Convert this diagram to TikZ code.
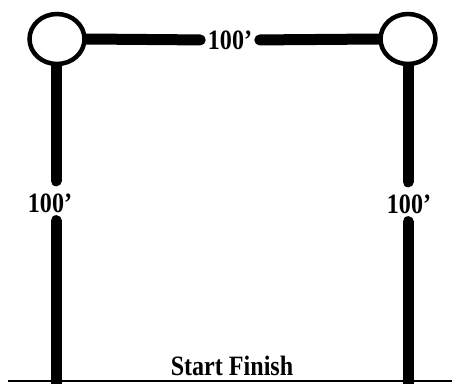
\documentclass[tikz,border=0pt]{standalone}
\usepackage{fontspec}
\usepackage{graphicx}
\setmainfont{Liberation Serif}
\usetikzlibrary{backgrounds,shapes.geometric}
\newcommand{\cond}[1]{\scalebox{0.86}[1]{#1}}
\begin{document}
\begin{tikzpicture}[x=1pt,y=-1pt,
  post/.style={draw=black,line width=4.5pt,fill=white,ellipse,minimum width=55pt,minimum height=50pt,inner sep=0pt},
  lbl/.style={font=\bfseries\fontsize{28}{28}\selectfont,inner sep=0pt,text=black},
  bar/.style={line width=11pt,line cap=round,draw=black}]
\useasboundingbox (0,0) rectangle (452,383);
\node[post] (lc) at (57,39) {};
\node[post] (rc) at (408,39) {};
\node[lbl] (top) at (230,40) {\cond{100’}};
\node[lbl] (left) at (50,203) {\cond{100’}};
\node[lbl] (right) at (409,204) {\cond{100’}};
\node[lbl] (sf) at (232,366) {\cond{Start Finish}};
\coordinate (lb) at (56,392);
\coordinate (rb) at (408,392);
\coordinate (bl) at (8,381);
\coordinate (br) at (452,381);
\begin{scope}[on background layer]
\draw[bar,shorten >=7.5pt] (lc.east) -- (top.west);
\draw[bar,shorten >=7.5pt] (rc.west) -- (top.east);
\draw[bar,shorten >=12.5pt] (lc.south) ++(-1,0) coordinate (ls) -- (ls |- left.north);
\draw[bar,shorten >=8pt] (lb) -- (lb |- left.south);
\draw[bar,shorten >=12.5pt] (rc.south) -- (rc.south |- right.north);
\draw[bar,shorten >=8pt] (rb) -- (rb |- right.south);
\end{scope}
\draw[line width=2pt] (bl) -- (br);
\end{tikzpicture}
\end{document}
